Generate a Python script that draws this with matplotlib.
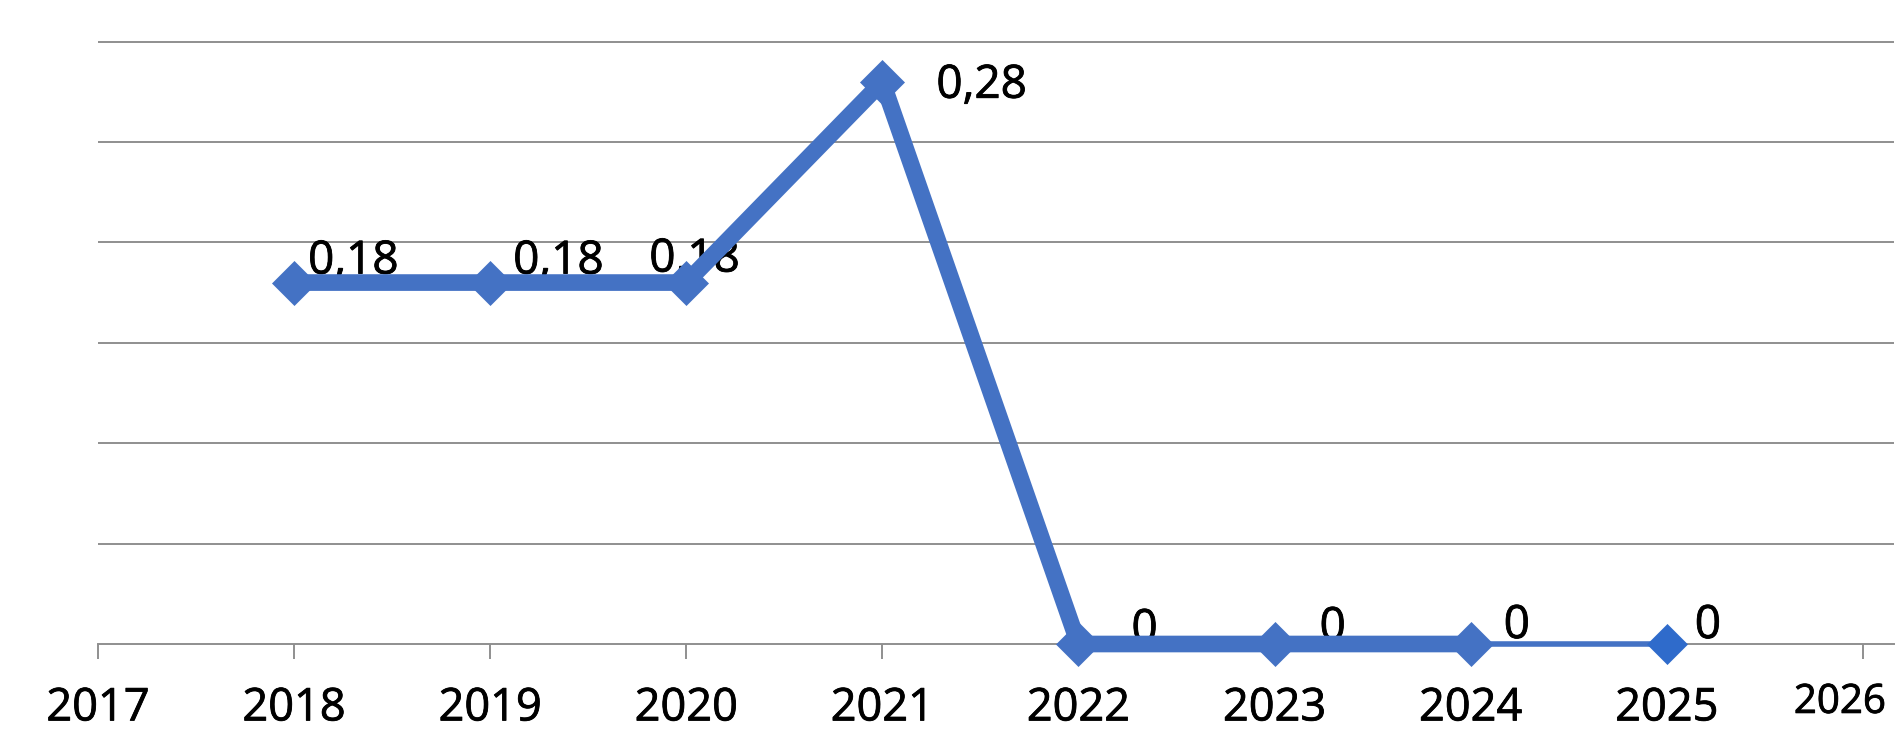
import matplotlib
matplotlib.use("Agg")
import matplotlib.pyplot as plt
import matplotlib.patheffects as pe
from matplotlib.transforms import ScaledTranslation

plt.rcParams['font.family'] = ['Open Sans', 'DejaVu Sans']

# data
years = [2018, 2019, 2020, 2021, 2022, 2023, 2024, 2025]
values = [0.18, 0.18, 0.18, 0.28, 0.0, 0.0, 0.0, 0.0]
labels = ["0,18", "0,18", "0,18", "0,28", "0", "0", "0", "0"]
tick_years = [2017, 2018, 2019, 2020, 2021, 2022, 2023, 2024, 2025, 2026]
grid_levels = [0.05, 0.10, 0.15, 0.20, 0.25, 0.30]

# label offsets in pixels (left edge, baseline) relative to each point
label_dx = [14, 23, -37, 54, 53, 45, 33, 28]
label_dy = [9, 9, 11, -16, 2, 4, 6, 6]

blue = "#4472C4"
grid_col = "#8f8f8f"
bold_fx = [pe.withStroke(linewidth=0.6, foreground="black")]

W, H = 1901, 749
fig = plt.figure(figsize=(W / 100, H / 100), dpi=100)
px_per_unit = 2008
ytop = 0.305
x0, x1 = 98, 1894
y_axis = 644
ax = fig.add_axes([x0 / W, 1 - y_axis / H, (x1 - x0) / W, ytop * px_per_unit / H])

ax.set_xlim(2017, 2017 + (x1 - x0) / 196.1)
ax.set_ylim(0, ytop)

for g in grid_levels:
    ax.axhline(g, color=grid_col, lw=1.4, zorder=1)

# main line, last segment is thinner in the original
ax.plot(years[:7], values[:7], color=blue, lw=12, solid_joinstyle="miter",
        zorder=3, clip_on=False)
ax.plot(years[6:], values[6:], color=blue, lw=4, zorder=3, clip_on=False)
ax.plot(years[:7], values[:7], ls="none", marker="D", ms=22, mfc=blue,
        mec=blue, mew=0.5, zorder=4, clip_on=False)
ax.plot(years[7:], values[7:], ls="none", marker="D", ms=20.5, mfc="#2F6BCB",
        mec="#2F6BCB", mew=0.5, zorder=4, clip_on=False)

for x, y, t, dx, dy in zip(years, values, labels, label_dx, label_dy):
    ax.annotate(t, (x, y), xytext=(dx, dy), textcoords="offset pixels",
                ha="left", va="baseline", fontsize=33, color="black", zorder=2,
                path_effects=bold_fx)

for s in ["top", "right", "left"]:
    ax.spines[s].set_visible(False)
ax.spines["bottom"].set_color(grid_col)
ax.spines["bottom"].set_linewidth(1.4)
ax.set_yticks([])
ax.set_xticks(tick_years)
ax.set_xticklabels([str(y) for y in tick_years])
ax.tick_params(axis="x", direction="out", length=10.8, width=1.4,
               color=grid_col, pad=19, labelsize=32.5, labelcolor="black")
for lab in ax.get_xticklabels():
    lab.set_path_effects(bold_fx)

# last year label is a bit smaller and sits slightly left / higher
lab = ax.get_xticklabels()[-1]
lab.set_fontsize(29)
lab.set_transform(lab.get_transform() + ScaledTranslation(-0.23, 0.03, fig.dpi_scale_trans))

fig.savefig("out.png", dpi=100, facecolor="white")
